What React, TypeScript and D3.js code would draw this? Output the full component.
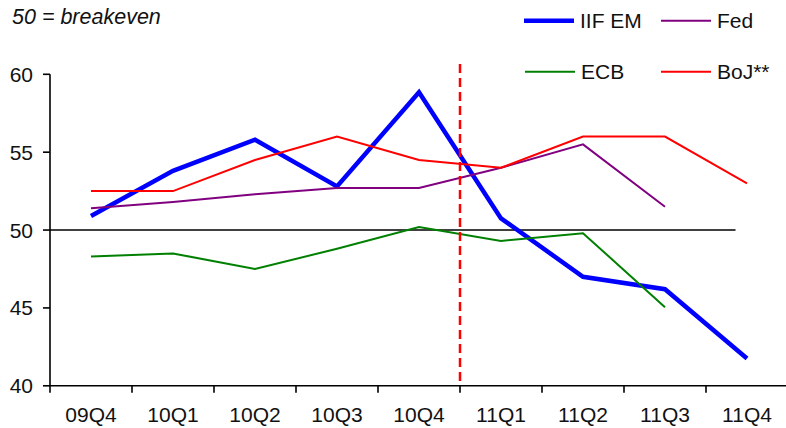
import React from "react";
import * as d3 from "d3";

const categories = ["09Q4", "10Q1", "10Q2", "10Q3", "10Q4", "11Q1", "11Q2", "11Q3", "11Q4"];
const iifEM = [50.9, 53.8, 55.8, 52.8, 58.85, 50.75, 47.0, 46.2, 41.75];
const fed = [51.4, 51.8, 52.3, 52.7, 52.7, 54.0, 55.5, 51.5];
const ecb = [48.3, 48.5, 47.5, 48.8, 50.2, 49.3, 49.8, 45.05];
const boj = [52.5, 52.5, 54.5, 56.0, 54.5, 54.0, 56.0, 56.0, 53.0];
const yTicks = [40, 45, 50, 55, 60];
const breakeven = 50;
const dividerAt = "11Q1";

const series = [
  { name: "IIF EM", values: iifEM, color: "#0000ff", width: 4.5 },
  { name: "Fed", values: fed, color: "#800080", width: 2 },
  { name: "ECB", values: ecb, color: "#008000", width: 2 },
  { name: "BoJ**", values: boj, color: "#ff0000", width: 2 },
];

const W = 786, H = 428;
const left = 50, right = 788, top = 74.3, bottom = 385.8;
const font = "Helvetica, Arial, 'Liberation Sans', sans-serif";

export default function App() {
  const x = d3.scaleBand<string>().domain(categories).range([left, right]).paddingInner(0).paddingOuter(0);
  const bw = x.bandwidth();
  const cx = (c: string) => (x(c) as number) + bw / 2;
  const y = d3.scaleLinear().domain([40, 60]).range([bottom, top]);

  const line = d3
    .line<[string, number]>()
    .x((d) => cx(d[0]))
    .y((d) => y(d[1]));

  const legendPos = [
    { lx: 524, ly: 20.7 },
    { lx: 661, ly: 20.7 },
    { lx: 525, ly: 71.7 },
    { lx: 661, ly: 71.7 },
  ];

  const divX = x(dividerAt) as number;

  return (
    <svg width={W} height={H} style={{ position: "absolute", left: 0, top: 0, background: "#fff" }} fontFamily={font}>
      <text x={12} y={24} fontSize={21.5} fontStyle="italic" fill="#111">
        50 = breakeven
      </text>

      {/* breakeven line */}
      <line x1={left} x2={cx("11Q4") - bw * 0.14} y1={y(breakeven)} y2={y(breakeven)} stroke="#000" strokeWidth={1.6} />

      {/* y axis */}
      <line x1={left} x2={left} y1={top} y2={bottom} stroke="#000" strokeWidth={1.6} />
      {yTicks.map((t) => (
        <g key={t}>
          <line x1={left - 7} x2={left} y1={y(t)} y2={y(t)} stroke="#000" strokeWidth={1.6} />
          <text x={33} y={y(t)} dy="0.36em" textAnchor="end" fontSize={21} fill="#111">
            {t}
          </text>
        </g>
      ))}

      {/* x axis */}
      <line x1={left} x2={right} y1={bottom} y2={bottom} stroke="#000" strokeWidth={1.6} />
      {categories.map((c) => (
        <g key={c}>
          <line x1={x(c) as number} x2={x(c) as number} y1={bottom} y2={bottom + 7} stroke="#000" strokeWidth={1.6} />
          <text x={cx(c)} y={422} textAnchor="middle" fontSize={21} fill="#111">
            {c}
          </text>
        </g>
      ))}

      {/* series */}
      {series.map((s) => (
        <path
          key={s.name}
          d={line(s.values.map((v, i) => [categories[i], v] as [string, number])) || ""}
          fill="none"
          stroke={s.color}
          strokeWidth={s.width}
          strokeLinejoin="miter"
        />
      ))}

      {/* divider */}
      <line x1={divX} x2={divX} y1={64} y2={bottom} stroke="#ff0000" strokeWidth={2.5} strokeDasharray="9,5" />

      {/* legend */}
      {series.map((s, i) => (
        <g key={s.name}>
          <line x1={legendPos[i].lx} x2={legendPos[i].lx + 50} y1={legendPos[i].ly} y2={legendPos[i].ly} stroke={s.color} strokeWidth={s.width} />
          <text x={legendPos[i].lx + 56} y={legendPos[i].ly} dy="0.36em" fontSize={21} fill="#111">
            {s.name}
          </text>
        </g>
      ))}
    </svg>
  );
}
